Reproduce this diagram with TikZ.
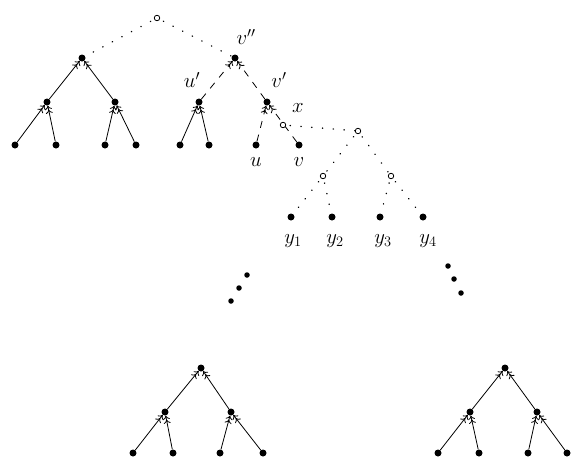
\documentclass[tikz,border=0pt]{standalone}
\usetikzlibrary{arrows.meta}
\begin{document}
\begin{tikzpicture}[x=1pt,y=-1pt,
  fdot/.style={circle,fill=black,inner sep=0pt,minimum size=7pt},
  odot/.style={circle,draw=black,fill=white,line width=0.8pt,inner sep=0pt,minimum size=5.5pt},
  lab/.style={inner sep=0pt,font=\fontsize{21}{25}\selectfont},
  arr/.style={line width=0.8pt,-{To[length=4pt,width=7pt]To[length=4pt,width=7pt]}},
  darr/.style={arr,dash pattern=on 7pt off 7pt},
  dotl/.style={line width=1.4pt,line cap=round,dash pattern=on 0.3pt off 10.5pt,dash phase=-4pt}]
\useasboundingbox (0,0) rectangle (572,458);
% top root
\node[odot] (r) at (157,18) {};
% left tree
\node[fdot] (a) at (82,58) {};
\node[fdot] (a1) at (47,102) {};
\node[fdot] (a2) at (115,102) {};
\node[fdot] (a11) at (15,145) {};
\node[fdot] (a12) at (56,145) {};
\node[fdot] (a21) at (105,145) {};
\node[fdot] (a22) at (136,145) {};
\draw[arr] (a1) -- (a); \draw[arr] (a2) -- (a);
\draw[arr] (a11) -- (a1); \draw[arr] (a12) -- (a1);
\draw[arr] (a21) -- (a2); \draw[arr] (a22) -- (a2);
% middle tree
\node[fdot] (vpp) at (235,58) {};
\node[fdot] (up) at (199,102) {};
\node[fdot] (vp) at (267,102) {};
\node[fdot] (b11) at (180,145) {};
\node[fdot] (b12) at (209,145) {};
\node[fdot] (u) at (256,145) {};
\node[fdot] (v) at (299,145) {};
\draw[darr] (up) -- (vpp); \draw[darr] (vp) -- (vpp);
\draw[arr] (b11) -- (up); \draw[arr] (b12) -- (up);
\draw[darr] (u) -- (vp);
\draw[darr] (v) -- (vp);
\node[odot] (x) at (283,125) {};
% dotted links from top root
\draw[dotl] (r) -- (a);
\draw[dotl] (r) -- (vpp);
% labels
\node[lab] (lvpp) at (246,37) {$v''$};
\node[lab] (lup) at (192,80) {$u'$};
\node[lab] (lvp) at (279,80) {$v'$};
\node[lab] (lx) at (298,108) {$x$};
\node[lab] (lu) at (256,162) {$u$};
\node[lab] (lv) at (299,162) {$v$};
% y-tree
\node[odot] (w) at (358,131) {};
\node[odot] (w1) at (323,176) {};
\node[odot] (w2) at (391,176) {};
\node[fdot] (y1) at (291,217) {};
\node[fdot] (y2) at (332,217) {};
\node[fdot] (y3) at (380,217) {};
\node[fdot] (y4) at (423,217) {};
\draw[dotl] (x) -- (w);
\draw[dotl] (w) -- (w1); \draw[dotl] (w) -- (w2);
\draw[dotl] (w1) -- (y1); \draw[dotl] (w1) -- (y2);
\draw[dotl] (w2) -- (y3); \draw[dotl] (w2) -- (y4);
\node[lab] (ly1) at (293,241) {$y_1$};
\node[lab] (ly2) at (335,241) {$y_2$};
\node[lab] (ly3) at (383,241) {$y_3$};
\node[lab] (ly4) at (428,241) {$y_4$};
% ellipsis dots
\node[fdot,minimum size=5.5pt] (e1) at (247,275) {};
\node[fdot,minimum size=5.5pt] (e2) at (239,288) {};
\node[fdot,minimum size=5.5pt] (e3) at (231,301) {};
\node[fdot,minimum size=5.5pt] (f1) at (448,266) {};
\node[fdot,minimum size=5.5pt] (f2) at (454,279) {};
\node[fdot,minimum size=5.5pt] (f3) at (461,293) {};
% bottom left tree
\node[fdot] (c) at (201,368) {};
\node[fdot] (c1) at (165,412) {};
\node[fdot] (c2) at (231,412) {};
\node[fdot] (c11) at (133,453) {};
\node[fdot] (c12) at (173,453) {};
\node[fdot] (c21) at (220,453) {};
\node[fdot] (c22) at (263,453) {};
\draw[arr] (c1) -- (c); \draw[arr] (c2) -- (c);
\draw[arr] (c11) -- (c1); \draw[arr] (c12) -- (c1);
\draw[arr] (c21) -- (c2); \draw[arr] (c22) -- (c2);
% bottom right tree
\node[fdot] (d) at (505,368) {};
\node[fdot] (d1) at (470,412) {};
\node[fdot] (d2) at (537,412) {};
\node[fdot] (d11) at (438,453) {};
\node[fdot] (d12) at (479,453) {};
\node[fdot] (d21) at (528,453) {};
\node[fdot] (d22) at (567,453) {};
\draw[arr] (d1) -- (d); \draw[arr] (d2) -- (d);
\draw[arr] (d11) -- (d1); \draw[arr] (d12) -- (d1);
\draw[arr] (d21) -- (d2); \draw[arr] (d22) -- (d2);
\end{tikzpicture}
\end{document}
